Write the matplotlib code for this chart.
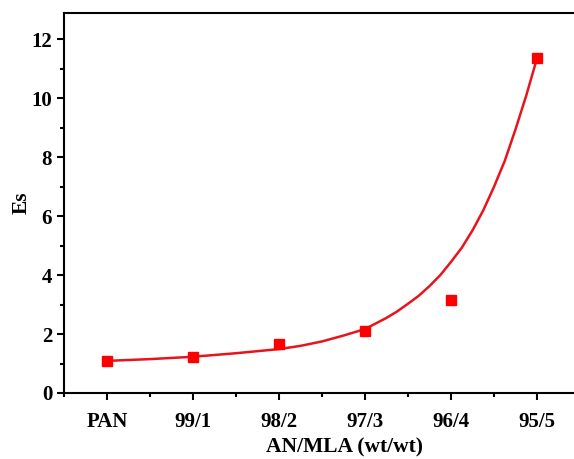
import numpy as np
import matplotlib
matplotlib.use("Agg")
import matplotlib.pyplot as plt
from matplotlib.ticker import AutoMinorLocator

labels = ["PAN", "99/1", "98/2", "97/3", "96/4", "95/5"]
es = [1.09, 1.23, 1.67, 2.12, 3.14, 11.36]

# fitted curve (x in category index units)
fit_x = [0, 0.5, 1, 1.5, 2, 2.25, 2.5, 2.75, 3, 3.125, 3.25, 3.375, 3.5, 3.625,
         3.75, 3.875, 4, 4.125, 4.25, 4.375, 4.5, 4.625, 4.75, 4.875, 5]
fit_y = [1.09, 1.15, 1.23, 1.35, 1.49, 1.6, 1.75, 1.95, 2.17, 2.36, 2.55, 2.77,
         3.03, 3.3, 3.63, 4.0, 4.45, 4.93, 5.52, 6.2, 7.0, 7.88, 8.95, 10.1, 11.36]

plt.rcParams["font.family"] = "Liberation Serif"
plt.rcParams["font.weight"] = "bold"

x = np.arange(len(labels))

fig = plt.figure(figsize=(5.74, 4.59), dpi=100)
ax = fig.add_axes([0.1115, 0.1438, 0.899, 0.828])
ax.plot(fit_x, fit_y, color="#e8141b", lw=1.8, solid_joinstyle="round")
ax.plot(x, es, "s", color="#ff0000", ms=6.5, zorder=3)

ax.set_xlim(-0.5, 5.5)
ax.set_ylim(0, 12.9)
ax.set_xticks(x)
ax.set_xticklabels(labels)
ax.set_yticks([0, 2, 4, 6, 8, 10, 12])
ax.xaxis.set_minor_locator(AutoMinorLocator(2))
ax.yaxis.set_minor_locator(AutoMinorLocator(2))
ax.tick_params(which="major", direction="out", length=5, width=1.5, labelsize=15)
ax.tick_params(axis="x", which="major", pad=9)
ax.tick_params(which="minor", direction="out", length=3, width=1.5)
ax.spines["right"].set_visible(False)
for s in ["left", "bottom", "top"]:
    ax.spines[s].set_linewidth(1.5)
ax.set_xlabel("AN/MLA (wt/wt)", fontsize=15.5, fontweight="bold")
ax.xaxis.set_label_coords(0.543, -0.118)
ax.set_ylabel("Es", fontsize=15.5, fontweight="bold")
ax.yaxis.set_label_coords(-0.062, 0.5)

fig.savefig("out.png", dpi=100)
